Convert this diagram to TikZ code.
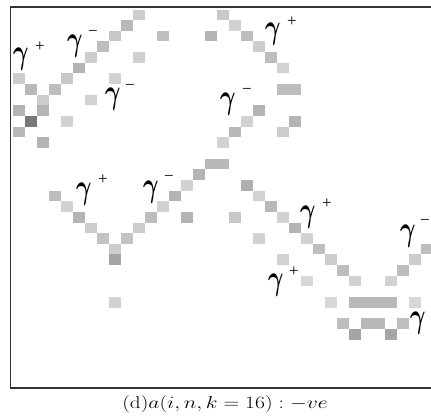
\documentclass[tikz,border=0pt]{standalone}
\usepackage{amsmath}
\usepackage{fontspec}
\newfontfamily\gfont{Liberation Serif}
\begin{document}
\begin{tikzpicture}[x=1pt,y=1pt,
  framestyle/.style={draw=black!80, line width=1.6pt},
  glab/.style={inner sep=0pt, anchor=north west, font=\fontsize{24.88}{26}\selectfont},
  gsup/.style={inner sep=0pt, anchor=center, font=\gfont\fontsize{17}{17}\selectfont}]
\useasboundingbox (0,0) rectangle (431,-416);
% frame (right side lies outside the picture)
\draw[framestyle] (431,-7) -- (10.5,-7) -- (10.5,-388) -- (431,-388);
% cells: column/row/grey level
\foreach \c/\r/\g in {
 10/0/205, 17/0/200,
 9/1/185, 18/1/210,
 8/2/200, 12/2/190, 16/2/180, 19/2/190,
 7/3/190, 20/3/205,
 6/4/205, 10/4/208, 21/4/190,
 5/5/180, 22/5/210,
 0/6/205, 4/6/200, 8/6/210,
 1/7/185, 3/7/190, 22/7/190, 23/7/190,
 2/8/205, 6/8/210,
 0/9/180, 2/9/180, 20/9/180,
 1/10/120, 4/10/210, 19/10/210, 23/10/180,
 0/11/185, 18/11/185, 22/11/205,
 2/12/180, 17/12/210,
 16/14/185, 17/14/185,
 15/15/180,
 14/16/210, 19/16/175,
 3/17/190, 13/17/180, 20/17/210,
 4/18/210, 12/18/210, 21/18/185,
 5/19/180, 11/19/190, 14/19/180, 18/19/200, 22/19/210,
 6/20/205, 10/20/205, 23/20/180,
 7/21/195, 9/21/195, 20/21/210, 24/21/210,
 8/22/205, 25/22/190, 34/22/190,
 8/23/165, 22/23/210, 26/23/205, 33/23/205,
 27/24/190, 32/24/190,
 24/25/215, 28/25/210, 31/25/210,
 8/27/210, 26/27/215, 28/27/185, 29/27/185, 30/27/185, 31/27/185, 33/27/215,
 27/29/190, 29/29/185, 30/29/185, 32/29/190,
 28/30/165, 31/30/165}
{
  \pgfmathsetmacro\p{(255-\g)/2.55}
  \fill[black!\p] (12.5+12*\c,-9.5-10.65*\r) rectangle ++(12,-10.65);
}
% labels
\newcommand\gam{\scalebox{0.95}[1.4]{$\boldsymbol{\gamma}$}}
\node[glab] (g1) at (13,-48) {\gam};   \node[gsup] (g1s) at (40,-46.5) {+};
\node[glab] (g2) at (67,-35) {\gam};   \node[gsup] (g2s) at (93,-33) {−};
\node[glab] (g3) at (105,-88) {\gam};  \node[gsup] (g3s) at (130,-87) {−};
\node[glab] (g4) at (265,-23) {\gam};  \node[gsup] (g4s) at (292,-22) {+};
\node[glab] (g5) at (220,-93) {\gam};  \node[gsup] (g5s) at (247,-91) {−};
\node[glab] (g6) at (76,-183) {\gam};  \node[gsup] (g6s) at (103,-180) {+};
\node[glab] (g7) at (143,-181) {\gam}; \node[gsup] (g7s) at (169,-178) {−};
\node[glab] (g8) at (300,-206) {\gam}; \node[gsup] (g8s) at (327,-204) {+};
\node[glab] (g9) at (268,-274) {\gam}; \node[gsup] (g9s) at (294,-272) {+};
\node[glab] (g10) at (400,-225) {\gam}; \node[gsup] (g10s) at (425,-222.5) {−};
\node[glab] (g11) at (410,-312) {\gam};
% caption
\node (cap) at (225,-404) {\scalebox{1.25}[1]{\fontsize{17}{20}\selectfont $(\mathrm{d})a(i,n,k=16) : -ve$}};
\end{tikzpicture}
\end{document}
